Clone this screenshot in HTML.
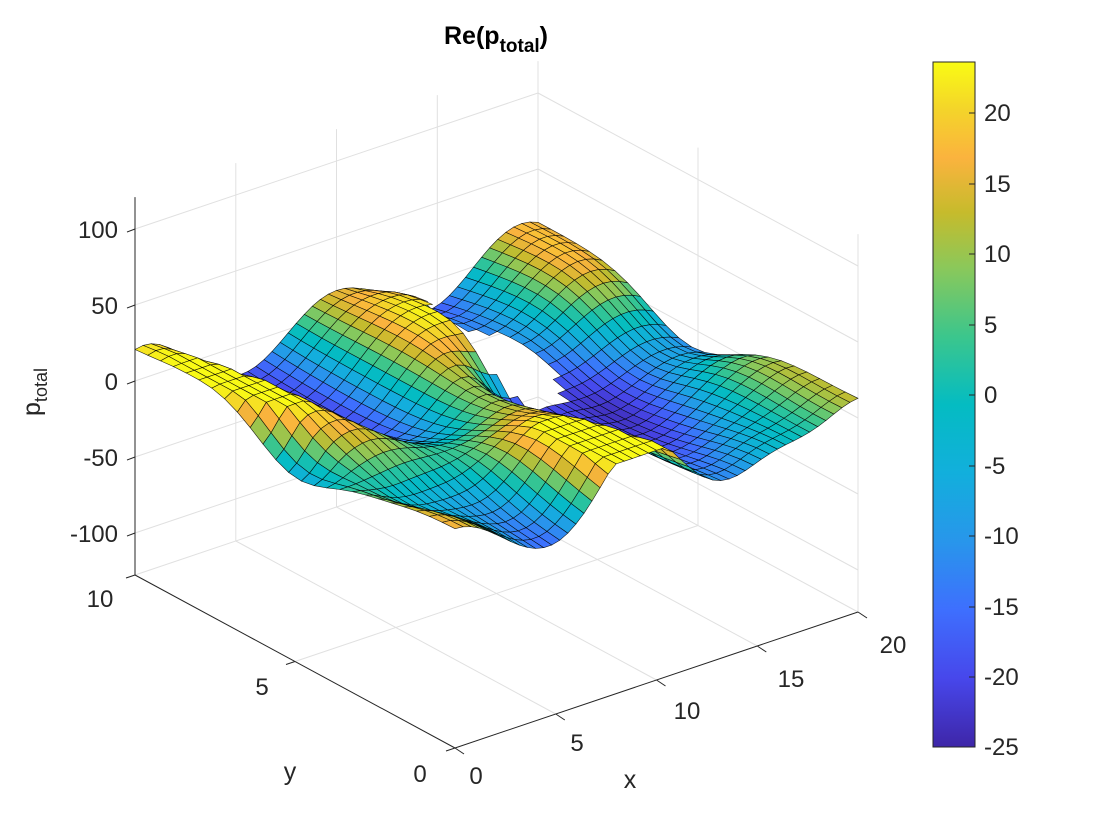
<!DOCTYPE html>
<html><head><meta charset="utf-8"><style>
html,body{margin:0;padding:0;background:#fff;}
svg{display:block;font-family:"Liberation Sans",Arial,sans-serif;}
</style></head><body>
<svg id="s" width="1120" height="840" viewBox="0 0 1120 840" xmlns="http://www.w3.org/2000/svg">
<rect width="1120" height="840" fill="#fff"/>
<g id="grid" stroke="#e0e0e0" stroke-width="1" fill="none"></g>
<g id="surf" stroke="#000" stroke-width="0.6" stroke-opacity="0.85"></g>
<g id="axes" stroke="#262626" stroke-width="1" fill="none"></g>
<g fill="#262626" font-size="24">
<text x="118" y="238" text-anchor="end">100</text>
<text x="118" y="314" text-anchor="end">50</text>
<text x="118" y="390" text-anchor="end">0</text>
<text x="118" y="466" text-anchor="end">-50</text>
<text x="118" y="542" text-anchor="end">-100</text>
<text x="100" y="607" text-anchor="middle">10</text>
<text x="262" y="695" text-anchor="middle">5</text>
<text x="420" y="782" text-anchor="middle">0</text>
<text x="476" y="784" text-anchor="middle">0</text>
<text x="577" y="751" text-anchor="middle">5</text>
<text x="687" y="719" text-anchor="middle">10</text>
<text x="791" y="687" text-anchor="middle">15</text>
<text x="893" y="653" text-anchor="middle">20</text>
<text x="290" y="780" text-anchor="middle" font-size="25">y</text>
<text x="630" y="788" text-anchor="middle" font-size="25">x</text>
<text transform="translate(40,392) rotate(-90)" font-size="25" text-anchor="middle">p<tspan font-size="18" dy="7">total</tspan></text>
</g>
<text x="496" y="44" text-anchor="middle" font-size="25" font-weight="bold" fill="#000">Re(p<tspan font-size="19" dy="8">total</tspan><tspan dy="-8">)</tspan></text>
<defs><linearGradient id="cb" x1="0" y1="1" x2="0" y2="0">
<stop offset="0" stop-color="#3e26a8"/><stop offset="0.1" stop-color="#4747eb"/>
<stop offset="0.2" stop-color="#3e6ffe"/><stop offset="0.3" stop-color="#2896eb"/>
<stop offset="0.4" stop-color="#12afdc"/><stop offset="0.5" stop-color="#04bcc2"/>
<stop offset="0.6" stop-color="#3cc68c"/><stop offset="0.7" stop-color="#8bc85a"/>
<stop offset="0.78" stop-color="#c6bb2c"/><stop offset="0.86" stop-color="#fbb33e"/>
<stop offset="0.93" stop-color="#f4d42a"/><stop offset="1" stop-color="#f9fb14"/>
</linearGradient></defs>
<rect x="933" y="62" width="42" height="685" fill="url(#cb)" stroke="#262626" stroke-width="1"/>
<g stroke="#262626" stroke-width="1">
<line x1="975" y1="113" x2="969" y2="113"/><line x1="975" y1="184" x2="969" y2="184"/>
<line x1="975" y1="254" x2="969" y2="254"/><line x1="975" y1="325" x2="969" y2="325"/>
<line x1="975" y1="395" x2="969" y2="395"/><line x1="975" y1="466" x2="969" y2="466"/>
<line x1="975" y1="536" x2="969" y2="536"/><line x1="975" y1="607" x2="969" y2="607"/>
<line x1="975" y1="677" x2="969" y2="677"/><line x1="975" y1="747" x2="969" y2="747"/>
</g>
<g fill="#262626" font-size="24">
<text x="984" y="121">20</text><text x="984" y="192">15</text><text x="984" y="262">10</text>
<text x="984" y="333">5</text><text x="984" y="403">0</text><text x="984" y="474">-5</text>
<text x="984" y="544">-10</text><text x="984" y="615">-15</text><text x="984" y="685">-20</text>
<text x="984" y="755">-25</text>
</g>
</svg>
<script>
(function(){
var ZMIN=-127.6, ZMAX=121;
function P(x,y,z){return [455+20.15*x-32*y, 748-6.8*x-17.3*y-1.52*(z-ZMIN)];}
function L(a,b){return '<line x1="'+a[0].toFixed(1)+'" y1="'+a[1].toFixed(1)+'" x2="'+b[0].toFixed(1)+'" y2="'+b[1].toFixed(1)+'"/>';}
var g='';
[5,10,15,20].forEach(function(x){g+=L(P(x,10,ZMIN),P(x,10,ZMAX));g+=L(P(x,0,ZMIN),P(x,10,ZMIN));});
[0,5].forEach(function(y){g+=L(P(20,y,ZMIN),P(20,y,ZMAX));});
[5,10].forEach(function(y){g+=L(P(0,y,ZMIN),P(20,y,ZMIN));});
[-100,-50,0,50,100].forEach(function(z){g+=L(P(0,10,z),P(20,10,z));g+=L(P(20,10,z),P(20,0,z));});
document.getElementById('grid').innerHTML=g;
var a='';
a+=L(P(0,10,ZMIN),P(0,10,ZMAX));
a+=L(P(0,10,ZMIN),P(0,0,ZMIN));
a+=L(P(0,0,ZMIN),P(20,0,ZMIN));
[-100,-50,0,50,100].forEach(function(z){var p=P(0,10,z);a+=L(p,[p[0]-8,p[1]+3]);});
[0,5,10].forEach(function(y){var p=P(0,y,ZMIN);a+=L(p,[p[0]-9,p[1]+3]);});
[0,5,10,15,20].forEach(function(x){var p=P(x,0,ZMIN);a+=L(p,[p[0]+9,p[1]+6]);});
document.getElementById('axes').innerHTML=a;

function J(n,x){var N=80,s=0;for(var i=0;i<=N;i++){var t=Math.PI*i/N;var w=(i==0||i==N)?0.5:1;s+=w*Math.cos(n*t-x*Math.sin(t));}return s/N;}
function Yb(n,x){var N=400,h=Math.PI/N,s=0;
 for(var i=0;i<=N;i++){var t=i*h;var w=(i==0||i==N)?1:(i%2?4:2);s+=w*Math.sin(x*Math.sin(t)-n*t);}
 var I1=s*h/3/Math.PI;
 var T=Math.asinh(50/x),h2=T/N,s2=0;
 for(var i=0;i<=N;i++){var t=i*h2;var w=(i==0||i==N)?1:(i%2?4:2);s2+=w*(Math.exp(n*t)+(n%2?-1:1)*Math.exp(-n*t))*Math.exp(-x*Math.sinh(t));}
 return I1-s2*h2/3/Math.PI;}
function Ys(nmax,x){var y=[Yb(0,x),Yb(1,x)];for(var n=1;n<nmax;n++)y.push(2*n/x*y[n]-y[n-1]);return y;}
function Js(nmax,x){var j=[];for(var n=0;n<=nmax;n++)j.push(J(n,x));return j;}

var k=0.648, al=0, rad=1.7, xc=13, yc=7.0, AMP=22, NM=10;
var ca=Math.cos(al), sa=Math.sin(al);
var ka=k*rad;
var jj=Js(NM+1,ka), yy=Ys(NM+1,ka);
var coef=[];
for(var n=0;n<=NM;n++){
 var jd=n==0?-jj[1]:(jj[n-1]-jj[n+1])/2;
 var yd=n==0?-yy[1]:(yy[n-1]-yy[n+1])/2;
 var eps=n==0?1:2;
 var den=jd*jd+yd*yd; var qr=jd*jd/den, qi=-jd*yd/den;
 var ir=[1,0,-1,0][n%4], ii=[0,1,0,-1][n%4];
 coef.push([-eps*(ir*qr-ii*qi), -eps*(ir*qi+ii*qr)]);
}
var ph0=k*(xc*ca+yc*sa);
var ph=[Math.cos(ph0),Math.sin(ph0)];
function G(x,y,x0,y0,sx,sy,A){return A*Math.exp(-((x-x0)*(x-x0)/sx+(y-y0)*(y-y0)/sy));}
function field(x,y){
 var dx=x-xc,dy=y-yc,r=Math.sqrt(dx*dx+dy*dy);
 if(r<rad) return NaN;
 var th=Math.atan2(dy,dx)-al, kr=k*r;
 var jv=Js(NM,kr), yv=Ys(NM,kr);
 var sr=0,si=0;
 for(var n=0;n<=NM;n++){var hr=jv[n],hi=yv[n],c=Math.cos(n*th);
  sr+=c*(coef[n][0]*hr-coef[n][1]*hi); si+=c*(coef[n][0]*hi+coef[n][1]*hr);}
 var tr=sr*ph[0]-si*ph[1];
 var v=AMP*(Math.cos(k*(x*ca+y*sa))+tr);
 var m=1-0.85*Math.exp(-((x-16.5)*(x-16.5)/14+y*y/7));
 v=v*m;
 v+=G(x,y,19.5,5.2,18,3.5,-28);
 v+=G(x,y,0,5,5,3,-28);
 v+=G(x,y,11.3,5.0,2.2,2.0,-34);
 v+=G(x,y,12.5,9.0,2.5,1.2,10);
 var d=x*0.58+(y-7.3)*0.815;
 var taper=Math.exp(-Math.pow(Math.max(0,x-8),2)/6)*Math.exp(-Math.pow(Math.max(0,1.5-x),2)/1.5);
 v+=22*Math.exp(-d*d/3)*taper;
 v+=G(x,y,1.5,2.5,3,2,-14);
 return Math.max(-25,Math.min(23.5,v));
}
var stops=[[0,62,38,168],[0.1,71,71,235],[0.2,62,111,254],[0.3,40,150,235],[0.4,18,175,220],[0.5,4,188,194],[0.6,60,198,140],[0.7,139,200,90],[0.78,198,187,44],[0.86,251,179,62],[0.93,244,212,42],[1,249,251,20]];
function col(v){var t=(v+25)/48.6;t=Math.max(0,Math.min(1,t));
 for(var i=1;i<stops.length;i++){if(t<=stops[i][0]){var a=stops[i-1],b=stops[i],f=(t-a[0])/(b[0]-a[0]);
  return 'rgb('+Math.round(a[1]+f*(b[1]-a[1]))+','+Math.round(a[2]+f*(b[2]-a[2]))+','+Math.round(a[3]+f*(b[3]-a[3]))+')';}}
 return 'rgb(249,251,20)';}
var NX=50,NY=25,Z=[];
for(var i=0;i<=NX;i++){Z.push([]);for(var j=0;j<=NY;j++){Z[i].push(field(20*i/NX,10*j/NY));}}
var quads=[];
for(var i=0;i<NX;i++)for(var j=0;j<NY;j++){
 var zs=[Z[i][j],Z[i+1][j],Z[i+1][j+1],Z[i][j+1]];
 if(zs.some(isNaN))continue;
 var x0=20*i/NX,x1=20*(i+1)/NX,y0=10*j/NY,y1=10*(j+1)/NY;
 var pts=[P(x0,y0,zs[0]),P(x1,y0,zs[1]),P(x1,y1,zs[2]),P(x0,y1,zs[3])];
 var zm=(zs[0]+zs[1]+zs[2]+zs[3])/4;
 var d=121*((x0+x1)/40)+153*((y0+y1)/20)-113*((zm-ZMIN)/249);
 quads.push([d,pts,col(zm)]);
}
quads.sort(function(a,b){return b[0]-a[0];});
var s='';
quads.forEach(function(q){s+='<polygon points="'+q[1].map(function(p){return p[0].toFixed(1)+','+p[1].toFixed(1);}).join(' ')+'" fill="'+q[2]+'"/>';});
document.getElementById('surf').innerHTML=s;
})();
</script>
</body></html>
